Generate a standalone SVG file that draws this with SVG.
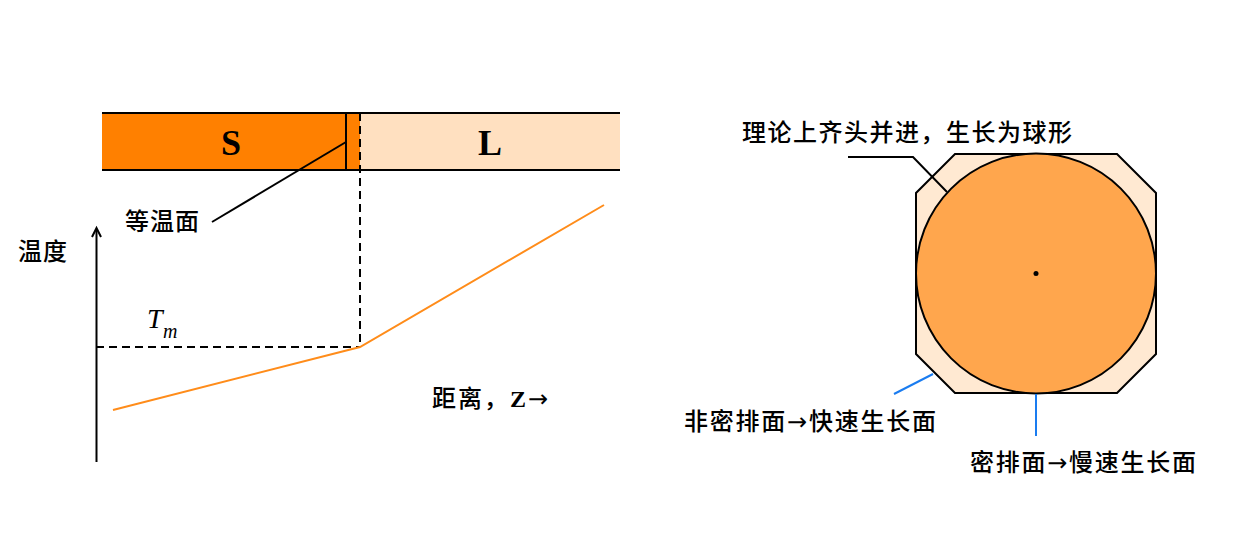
<svg xmlns="http://www.w3.org/2000/svg" width="1250" height="553" viewBox="0 0 1250 553">
<style>
.cj{font-family:"Liberation Serif","Noto Sans CJK SC",serif;font-size:24px;font-weight:500;fill:#000}
.ar{font-family:"DejaVu Sans",sans-serif;font-weight:normal}
.big{font-family:"Liberation Serif",serif;font-size:36px;font-weight:bold;fill:#000}
.blk{stroke:#000;stroke-width:2;fill:none}
.dash{stroke:#000;stroke-width:2;stroke-dasharray:8 5;fill:none}
.blue{stroke:#1a7cf0;stroke-width:2;fill:none}
</style>
<rect width="1250" height="553" fill="#fff"/>
<g id="bar">
<rect x="102" y="113" width="258" height="57" fill="#ff8000"/>
<rect x="360" y="113" width="260" height="57" fill="#ffe0c0"/>
<line x1="102" y1="113" x2="620" y2="113" class="blk"/>
<line x1="102" y1="170" x2="620" y2="170" class="blk"/>
<line x1="346" y1="113" x2="346" y2="170" class="blk"/>
<text x="231" y="155" class="big" text-anchor="middle">S</text>
<text x="490" y="155" class="big" text-anchor="middle">L</text>
</g>
<g id="isotherm-label">
<text x="125" y="230" class="cj" textLength="74">等温面</text>
</g>
<g id="axis">
<line x1="96.5" y1="462" x2="96.5" y2="229" class="blk"/>
<polyline points="92,237 96.5,228 101,237" class="blk"/>
<text x="18" y="260" class="cj" textLength="49">温度</text>
<text x="432" y="407" class="cj" textLength="116">距离，<tspan font-weight="bold" font-family="Liberation Serif">Z</tspan><tspan class="ar">→</tspan></text>
<text x="147" y="328" font-family="Liberation Serif" font-style="italic" font-size="28">T</text>
<text x="163" y="338" font-family="Liberation Serif" font-style="italic" font-size="20">m</text>
</g>
<g id="crystal">
<polygon points="955,154 1117,154 1156,193 1156,354 1117,393 955,393 916,354 916,193" fill="#ffe9d2" stroke="#000" stroke-width="2"/>
<circle cx="1036" cy="273.5" r="120" fill="#ffa64d" stroke="#000" stroke-width="2"/>
<circle cx="1036" cy="273.5" r="2.5" fill="#000"/>
<text x="742" y="141" class="cj" textLength="330">理论上齐头并进，生长为球形</text>
<text x="684" y="430" class="cj" textLength="252">非密排面<tspan class="ar">→</tspan>快速生长面</text>
<text x="970" y="471" class="cj" textLength="226">密排面<tspan class="ar">→</tspan>慢速生长面</text>
</g>
<g id="connectors">
<line x1="360" y1="113" x2="360" y2="347" class="dash"/>
<line x1="96" y1="347" x2="360" y2="347" class="dash"/>
<polyline points="113,410 360,347 604,205" stroke="#ff8c1a" stroke-width="2" fill="none"/>
<line x1="212" y1="222" x2="346" y2="142" class="blk"/>
<polyline points="848,157 913,157 947,192" class="blk"/>
<line x1="894" y1="394" x2="933" y2="374" class="blue"/>
<line x1="1036" y1="394" x2="1036" y2="436" class="blue"/>
</g>
</svg>
